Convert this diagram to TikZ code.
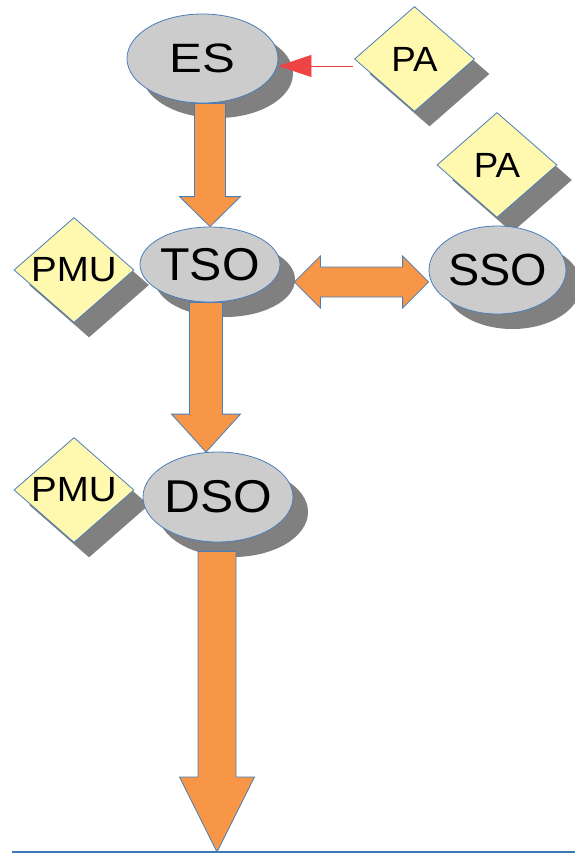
\documentclass[tikz,border=0pt]{standalone}
\usepackage{fontspec}
\setmainfont{Liberation Sans}
\usetikzlibrary{shapes.geometric,shadows,calc,arrows.meta}

\definecolor{nodegray}{HTML}{CCCCCC}
\definecolor{shadegray}{HTML}{808080}
\definecolor{edgeblue}{HTML}{4A7EBB}
\definecolor{padyellow}{HTML}{FFF9B0}
\definecolor{flow}{HTML}{F79646}
\definecolor{signal}{HTML}{EE4444}
\definecolor{baseblue}{HTML}{3C78B4}

\tikzset{
  castshadow/.style={drop shadow={shadow xshift=15pt,shadow yshift=-15pt,fill=shadegray,opacity=1}},
  operator/.style={ellipse,draw=edgeblue,line width=0.8pt,fill=nodegray,inner sep=-8pt,castshadow,
    font=\fontsize{46}{46}\selectfont},
  unit/.style={diamond,draw=edgeblue,line width=0.8pt,fill=padyellow,inner sep=-6pt,
    minimum width=120pt,minimum height=105pt,castshadow,font=\fontsize{35}{35}\selectfont},
  flowarrow/.style={fill=flow,draw=edgeblue,line width=0.8pt,line join=miter},
  signalarrow/.style={draw=signal,line width=0.8pt,-{Triangle[length=33pt,width=22pt,fill=signal]}},
  baseline rule/.style={draw=baseblue,line width=2pt},
}

% label text widened horizontally by the given factor
\newcommand\wide[2]{\scalebox{#1}[1]{#2}}

% block arrow pointing down: start, tip, shaft half width, head half width, head length
\newcommand\flowdown[5]{%
  \draw[flowarrow] let \p1=#1, \p2=#2 in
    (\x2-#3pt,\y1) -- (\x2-#3pt,\y2+#5pt) -- (\x2-#4pt,\y2+#5pt) -- (\x2,\y2)
    -- (\x2+#4pt,\y2+#5pt) -- (\x2+#3pt,\y2+#5pt) -- (\x2+#3pt,\y1) -- cycle;}

% horizontal block arrow with two heads: left tip, right tip, shaft half, head half, head length
\newcommand\flowboth[5]{%
  \draw[flowarrow] let \p1=#1, \p2=#2 in
    (\x1,\y1) -- (\x1+#5pt,\y1+#4pt) -- (\x1+#5pt,\y1+#3pt) -- (\x2-#5pt,\y1+#3pt)
    -- (\x2-#5pt,\y1+#4pt) -- (\x2,\y1) -- (\x2-#5pt,\y1-#4pt) -- (\x2-#5pt,\y1-#3pt)
    -- (\x1+#5pt,\y1-#3pt) -- (\x1+#5pt,\y1-#4pt) -- cycle;}

\begin{document}
\begin{tikzpicture}[x=1pt,y=-1pt]
  \useasboundingbox (0,0) rectangle (575,854);

  % ground line
  \coordinate (lineL) at (12,852);
  \coordinate (lineR) at (575,852);
  \coordinate (ground) at (217,852);
  \draw[baseline rule] (lineL) -- (lineR);

  % units and operators
  \node[unit] (PA1) at (414.5,59) {\wide{1.05}{PA}};
  \node[operator,minimum width=151pt,minimum height=89pt,font=\fontsize{41}{41}\selectfont]
    (ES) at (202.5,58.5) {\wide{1.2}{ES}};
  \node[unit] (PMU1) at (74,270) {\wide{1.1}{PMU}};
  \node[operator,minimum width=140pt,minimum height=75pt] (TSO) at (210,264.5) {\wide{1.05}{TSO}};
  \node[unit] (PA2) at (497,165) {\wide{1.05}{PA}};
  \node[operator,minimum width=137pt,minimum height=88pt,font=\fontsize{45}{45}\selectfont]
    (SSO) at (497.5,270) {\wide{1.04}{SSO}};
  \node[unit] (PMU2) at (74,490) {\wide{1.1}{PMU}};
  \node[operator,minimum width=150pt,minimum height=90pt] (DSO) at (218,497) {\wide{1.08}{DSO}};

  % signal from PA to ES
  \coordinate (sig) at ($(PA1.west)+(-1,7)$);
  \draw[signalarrow] (sig) -- (sig -| ES.east);

  % energy flows
  \flowdown{(ES.south -| TSO.north)}{(TSO.north)}{15.5}{30.5}{30}
  \flowdown{($(TSO.south)+(-4,0)$)}{($(DSO.north)+(-12,0.5)$)}{16.5}{34.5}{38}
  \flowdown{($(DSO.south)+(0,9)$)}{(ground)}{19}{37.5}{75}
  \coordinate (bothL) at ($(TSO.east)+(14,17.5)$);
  \flowboth{(bothL)}{(SSO.west |- bothL)}{15}{26}{26}
\end{tikzpicture}
\end{document}
